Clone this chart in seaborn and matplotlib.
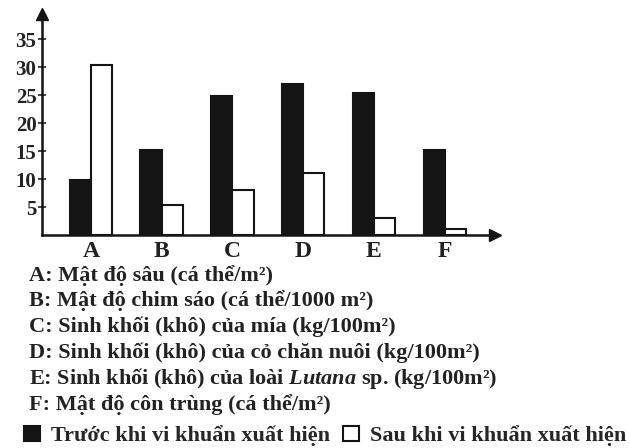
import matplotlib
matplotlib.use("Agg")
import matplotlib.pyplot as plt
import seaborn as sns
import pandas as pd

categories = ["A", "B", "C", "D", "E", "F"]
before = [9.8, 15.2, 24.9, 27.0, 25.3, 15.2]
after = [30.4, 5.4, 8.0, 11.1, 3.0, 1.0]
series_names = ["Trước khi vi khuẩn xuất hiện", "Sau khi vi khuẩn xuất hiện"]
yticks = [5, 10, 15, 20, 25, 30, 35]
descriptions = [
    "A: Mật độ sâu (cá thể/m²)",
    "B: Mật độ chim sáo (cá thể/1000 m²)",
    "C: Sinh khối (khô) của mía (kg/100m²)",
    "D: Sinh khối (khô) của cỏ chăn nuôi (kg/100m²)",
    r"E: Sinh khối (khô) của loài $\mathit{Lutana}$ sp. (kg/100m²)",
    "F: Mật độ côn trùng (cá thể/m²)",
]

sns.set_theme(style="white")
serif = ["Liberation Serif", "DejaVu Serif"]
plt.rcParams["font.family"] = serif
plt.rcParams["font.weight"] = "bold"
plt.rcParams["mathtext.fontset"] = "custom"
plt.rcParams["mathtext.rm"] = "Liberation Serif:bold"
plt.rcParams["mathtext.it"] = "Liberation Serif:italic:bold"
plt.rcParams["mathtext.bf"] = "Liberation Serif:bold"

df = pd.DataFrame({
    "cat": categories * 2,
    "val": before + after,
    "series": [series_names[0]] * len(categories) + [series_names[1]] * len(categories),
})

W, H = 630, 448
fig = plt.figure(figsize=(W / 100, H / 100), dpi=100)
x0, x1 = 42, 495
y_top, y_base = 14, 235
ax = fig.add_axes([x0 / W, 1 - y_base / H, (x1 - x0) / W, (y_base - y_top) / H])

sns.barplot(data=df, x="cat", y="val", hue="series", order=categories,
            hue_order=series_names, palette=["#141414", "white"],
            edgecolor="#141414", linewidth=1.5, width=0.6, ax=ax, saturation=1)

handles, labels = ax.get_legend_handles_labels()
if ax.get_legend() is not None:
    ax.get_legend().remove()

ax.set_xlim(-0.69, 5.71)
ax.set_ylim(0, 39.5)
ax.set_xlabel("")
ax.set_ylabel("")
for s in ["top", "right"]:
    ax.spines[s].set_visible(False)
for s in ["left", "bottom"]:
    ax.spines[s].set_color("#141414")
    ax.spines[s].set_linewidth(1.8)

ax.set_yticks(yticks)
ax.set_yticklabels([str(v) for v in yticks], fontsize=15, fontweight="bold", color="#222222")
ax.tick_params(axis="y", direction="inout", length=6, width=1.2, pad=1.0, colors="#222222", left=True)
ax.tick_params(axis="x", length=0, pad=4)
for lab in ax.get_xticklabels():
    lab.set_fontsize(17)
    lab.set_fontweight("bold")
    lab.set_color("#222222")

# arrow heads
ax.plot([-0.69], [39.5], marker="^", markersize=9, color="#141414", clip_on=False)
ax.plot([5.71], [0], marker=">", markersize=9, color="#141414", clip_on=False)

baselines = [281, 306, 332, 358, 384, 410]
for txt, yb in zip(descriptions, baselines):
    fig.text(29 / W, 1 - yb / H, txt, fontsize=16, fontweight="bold",
             va="baseline", ha="left", color="#222222")

fig.legend(handles, labels, ncol=2, frameon=False, loc="center left",
           bbox_to_anchor=(24 / W, 1 - 436 / H), fontsize=16,
           handlelength=0.7, handleheight=0.7, handletextpad=0.5,
           columnspacing=0.6, borderaxespad=0, borderpad=0)

fig.savefig("out.png", dpi=100)
